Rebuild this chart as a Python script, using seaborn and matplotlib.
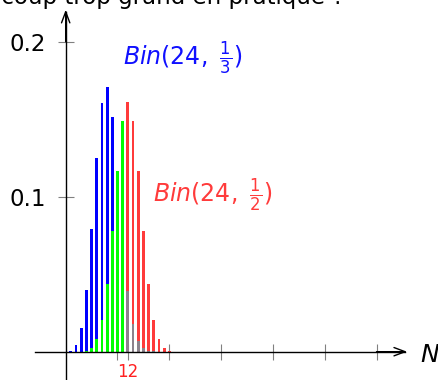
import matplotlib
matplotlib.use("Agg")
import matplotlib.pyplot as plt
import seaborn as sns

# ---- data ----
k_vals = list(range(0, 25))
bin_third = [0.0001, 0.0007, 0.0041, 0.0150, 0.0395, 0.0789, 0.1249, 0.1606,
             0.1707, 0.1517, 0.1138, 0.0724, 0.0392, 0.0181, 0.0071, 0.0024,
             0.0007, 0.0002, 0.0, 0.0, 0.0, 0.0, 0.0, 0.0, 0.0]
bin_half = [0.0, 0.0, 0.0, 0.0001, 0.0006, 0.0025, 0.0080, 0.0206,
            0.0438, 0.0779, 0.1169, 0.1488, 0.1612, 0.1488, 0.1169, 0.0779,
            0.0438, 0.0206, 0.0080, 0.0025, 0.0006, 0.0001, 0.0, 0.0, 0.0]
threshold = 12
x_ticks = [10, 12, 20, 30, 40, 50, 60]
x_tick_labels = ["", "12", "", "", "", "", ""]
y_ticks = [0.1, 0.2]
y_tick_labels = ["0.1", "0.2"]
label_third = r"$\mathit{Bin}(24,\ \frac{1}{3})$"
label_half = r"$\mathit{Bin}(24,\ \frac{1}{2})$"
title_text = "beaucoup trop grand en pratique ?"

sns.set_style("white")
plt.rcParams["font.family"] = ["DejaVu Sans"]
plt.rcParams["mathtext.fontset"] = "dejavusans"
plt.rcParams["text.color"] = "black"

fig = plt.figure(figsize=(4.38, 3.80), dpi=100)
ax = fig.add_axes([0, 0, 1, 1])

lo_k = [k for k in k_vals if k < threshold]
hi_k = [k for k in k_vals if k >= threshold]
blue_vals = [bin_third[k] for k in lo_k]
green_vals = [bin_half[k] for k in lo_k]
red_vals = [bin_half[k] for k in hi_k]
gray_vals = [bin_third[k] for k in hi_k]

common = dict(native_scale=True, width=0.55, linewidth=0, saturation=1, ax=ax, errorbar=None)
sns.barplot(x=lo_k, y=blue_vals, color="#0000ff", **common)
sns.barplot(x=lo_k, y=green_vals, color="#00ff00", **common)
sns.barplot(x=hi_k, y=red_vals, color="#ff3b3b", **common)
sns.barplot(x=hi_k, y=gray_vals, color="#8c828c", **common)

ax.set_xlim(-12.68, 71.87)
ax.set_ylim(-0.01826, 0.2269)
ax.set_xlabel("")
ax.set_ylabel("")
ax.set_facecolor("white")

for s in ["top", "right"]:
    ax.spines[s].set_visible(False)
ax.spines["bottom"].set_position(("data", 0))
ax.spines["left"].set_position(("data", 0))
ax.spines["bottom"].set_bounds(-6, 65.5)
ax.spines["left"].set_bounds(-0.0183, 0.219)
for s in ["bottom", "left"]:
    ax.spines[s].set_color("black")
    ax.spines[s].set_linewidth(1.0)

ax.set_xticks(x_ticks)
ax.set_xticklabels(x_tick_labels)
ax.set_yticks(y_ticks)
ax.set_yticklabels(y_tick_labels)
ax.tick_params(axis="x", bottom=True, direction="inout", length=11.5, width=0.8,
               color="#808080", pad=2.2, labelsize=12, labelcolor="#ff2020")
ax.tick_params(axis="y", left=True, direction="inout", length=12, width=0.8,
               color="#808080", pad=8.4, labelsize=16.5, labelcolor="black")
for t, lab in zip(ax.xaxis.get_major_ticks(), x_tick_labels):
    if lab:
        t.tick1line.set_color("#b8b8b8")

arrow = dict(arrowstyle="->,head_length=0.8,head_width=0.3", color="black",
             lw=1.0, shrinkA=0, shrinkB=0, mutation_scale=10)
ax.annotate("", xy=(65.9, 0), xytext=(60, 0), arrowprops=arrow)
ax.annotate("", xy=(0, 0.2206), xytext=(0, 0.2), arrowprops=arrow)

ax.text(68.4, -0.0066, r"$N$", fontsize=18, ha="left", va="baseline", color="black")
ax.text(11.0, 0.185, label_third, color="#1010ff", fontsize=17, ha="left", va="baseline")
ax.text(16.8, 0.0966, label_half, color="#ff3b3b", fontsize=17, ha="left", va="baseline")

fig.text(344 / 438, 1 - 4 / 380, title_text, ha="right", va="baseline",
         fontsize=16.5, color="black")

fig.savefig("out.png", dpi=100, facecolor="white")
